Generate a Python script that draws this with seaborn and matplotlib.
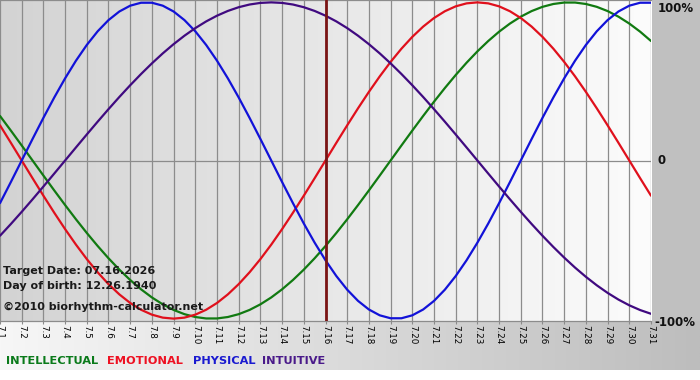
import numpy as np
import pandas as pd
import matplotlib
matplotlib.use("Agg")
import matplotlib.pyplot as plt
from matplotlib.patches import Rectangle
from matplotlib.colors import LinearSegmentedColormap
import seaborn as sns

days = list(range(1, 32))
day_labels = [f"7.{d}" for d in days]
target_day = 16
sample_days = [1 + 0.5 * i for i in range(61)]   # x positions 7.1, 7.1½, ... 7.31

intellectual = [0.2817, 0.1893, 0.0951, 0.0, -0.0951, -0.1893, -0.2817, -0.3717,
                -0.4582, -0.5406, -0.6182, -0.6901, -0.7557, -0.8146, -0.8660, -0.9096,
                -0.9450, -0.9718, -0.9898, -0.9989, -0.9989, -0.9898, -0.9718, -0.9450,
                -0.9096, -0.8660, -0.8146, -0.7557, -0.6901, -0.6182, -0.5406, -0.4582,
                -0.3717, -0.2817, -0.1893, -0.0951, 0.0, 0.0951, 0.1893, 0.2817,
                0.3717, 0.4582, 0.5406, 0.6182, 0.6901, 0.7557, 0.8146, 0.8660,
                0.9096, 0.9450, 0.9718, 0.9898, 0.9989, 0.9989, 0.9898, 0.9718,
                0.9450, 0.9096, 0.8660, 0.8146, 0.7557]
emotional = [0.2225, 0.1120, 0.0, -0.1120, -0.2225, -0.3303, -0.4339, -0.5320,
             -0.6235, -0.7071, -0.7818, -0.8467, -0.9010, -0.9439, -0.9749, -0.9937,
             -1.0, -0.9937, -0.9749, -0.9439, -0.9010, -0.8467, -0.7818, -0.7071,
             -0.6235, -0.5320, -0.4339, -0.3303, -0.2225, -0.1120, 0.0, 0.1120,
             0.2225, 0.3303, 0.4339, 0.5320, 0.6235, 0.7071, 0.7818, 0.8467,
             0.9010, 0.9439, 0.9749, 0.9937, 1.0, 0.9937, 0.9749, 0.9439,
             0.9010, 0.8467, 0.7818, 0.7071, 0.6235, 0.5320, 0.4339, 0.3303,
             0.2225, 0.1120, 0.0, -0.1120, -0.2225]
physical = [-0.2698, -0.1362, 0.0, 0.1362, 0.2698, 0.3984, 0.5196, 0.6311,
            0.7308, 0.8170, 0.8879, 0.9423, 0.9791, 0.9977, 0.9977, 0.9791,
            0.9423, 0.8879, 0.8170, 0.7308, 0.6311, 0.5196, 0.3984, 0.2698,
            0.1362, 0.0, -0.1362, -0.2698, -0.3984, -0.5196, -0.6311, -0.7308,
            -0.8170, -0.8879, -0.9423, -0.9791, -0.9977, -0.9977, -0.9791, -0.9423,
            -0.8879, -0.8170, -0.7308, -0.6311, -0.5196, -0.3984, -0.2698, -0.1362,
            0.0, 0.1362, 0.2698, 0.3984, 0.5196, 0.6311, 0.7308, 0.8170,
            0.8879, 0.9423, 0.9791, 0.9977, 0.9977]
intuitive = [-0.4759, -0.4017, -0.3247, -0.2455, -0.1646, -0.0826, 0.0, 0.0826,
             0.1646, 0.2455, 0.3247, 0.4017, 0.4759, 0.5469, 0.6142, 0.6773,
             0.7357, 0.7891, 0.8372, 0.8795, 0.9158, 0.9458, 0.9694, 0.9864,
             0.9966, 1.0, 0.9966, 0.9864, 0.9694, 0.9458, 0.9158, 0.8795,
             0.8372, 0.7891, 0.7357, 0.6773, 0.6142, 0.5469, 0.4759, 0.4017,
             0.3247, 0.2455, 0.1646, 0.0826, 0.0, -0.0826, -0.1646, -0.2455,
             -0.3247, -0.4017, -0.4759, -0.5469, -0.6142, -0.6773, -0.7357, -0.7891,
             -0.8372, -0.8795, -0.9158, -0.9458, -0.9694]

series_names = ["INTELLECTUAL", "EMOTIONAL", "PHYSICAL", "INTUITIVE"]
series_colors = {"INTELLECTUAL": "#117a11", "EMOTIONAL": "#e0101c",
                 "PHYSICAL": "#1212d8", "INTUITIVE": "#400a80"}
legend_text_colors = {"INTELLECTUAL": "#0a7a1a", "EMOTIONAL": "#ee1122",
                      "PHYSICAL": "#1a1ad0", "INTUITIVE": "#4a1a8a"}

df = pd.concat([
    pd.DataFrame({"day": sample_days, "value": vals, "series": name})
    for name, vals in zip(series_names, [intellectual, emotional, physical, intuitive])
], ignore_index=True)

# ---------------- style ----------------
sns.set_theme(style="white")
plt.rcParams['font.family'] = ['DejaVu Sans']

W, H = 700, 380
fig = plt.figure(figsize=(W / 100, H / 100), dpi=100)
fig.patch.set_facecolor("white")

# background layer (pixel coordinates)
bg = fig.add_axes([0, 0, 1, 1], zorder=0)
bg.axis("off")
grad = np.linspace(0, 1, 256).reshape(1, -1)
cm_bottom = LinearSegmentedColormap.from_list("bottom", ["#f7f7f7", "#bdbdbd"])
bg.imshow(grad, cmap=cm_bottom, extent=[0, 700, 370, 321], aspect="auto")
bg.add_patch(Rectangle((652, 0), 48, 321, color="#c0c0c0", lw=0))
bg.set_xlim(0, W)
bg.set_ylim(H, 0)

# main plot axes
plot_left, plot_right, plot_top, plot_bottom = 0, 651, 0, 321
ax = fig.add_axes([plot_left / W, 1 - plot_bottom / H,
                   (plot_right - plot_left) / W, (plot_bottom - plot_top) / H], zorder=1)
ax.set_facecolor("none")

cm_plot = LinearSegmentedColormap.from_list("plot", ["#d3d3d3", "#fcfcfc"])
ylo, yhi = -1.015, 1.015
ax.imshow(grad, cmap=cm_plot, extent=[1, 31, ylo, yhi], aspect="auto", zorder=0)

sns.lineplot(data=df, x="day", y="value", hue="series", palette=series_colors,
             hue_order=series_names, linewidth=1.6, legend=False, ax=ax, zorder=3)

ax.set_xlim(1, 31)
ax.set_ylim(ylo, yhi)
ax.set_xticks(days)
ax.set_xticklabels(day_labels, rotation=-90, fontsize=6.3, color="#000000")
ax.tick_params(axis="x", length=2.5, width=0.8, color="#8a8a8a", pad=0.5, bottom=True)
ax.set_yticks([])
ax.set_xlabel("")
ax.set_ylabel("")
ax.grid(axis="x", color="#8c8c8c", linewidth=0.9, zorder=1)
ax.axhline(0, color="#8c8c8c", linewidth=0.9, zorder=1)
ax.axvline(target_day, color="#7a1414", linewidth=2, zorder=4)
for side in ["top", "bottom"]:
    ax.spines[side].set_color("#8c8c8c")
    ax.spines[side].set_linewidth(0.9)
for side in ["left", "right"]:
    ax.spines[side].set_visible(False)

# right side labels
fig.text(658 / W, 1 - 8 / H, "100%", fontsize=8.5, fontweight="bold", color="#111111",
         ha="left", va="center")
fig.text(657 / W, 1 - 161 / H, "0", fontsize=8.5, fontweight="bold", color="#111111",
         ha="left", va="center")
fig.text(654 / W, 1 - 322 / H, "-100%", fontsize=8.5, fontweight="bold", color="#111111",
         ha="left", va="center")

# info texts
info_color = "#1a1a1a"
fig.text(3 / W, 1 - 271 / H, "Target Date: 07.16.2026", fontsize=8, fontweight="bold",
         color=info_color, ha="left", va="center", zorder=5)
fig.text(3 / W, 1 - 286 / H, "Day of birth: 12.26.1940", fontsize=8, fontweight="bold",
         color=info_color, ha="left", va="center", zorder=5)
fig.text(3 / W, 1 - 307 / H, "\u00a92010 biorhythm-calculator.net", fontsize=8,
         fontweight="bold", color=info_color, ha="left", va="center", zorder=5)

# colored legend words
legend_x = [6, 107, 193, 262]
for name, x in zip(series_names, legend_x):
    fig.text(x / W, 1 - 361 / H, name, fontsize=8.2, fontweight="bold",
             color=legend_text_colors[name], ha="left", va="center")

fig.savefig("out.png", dpi=100)
